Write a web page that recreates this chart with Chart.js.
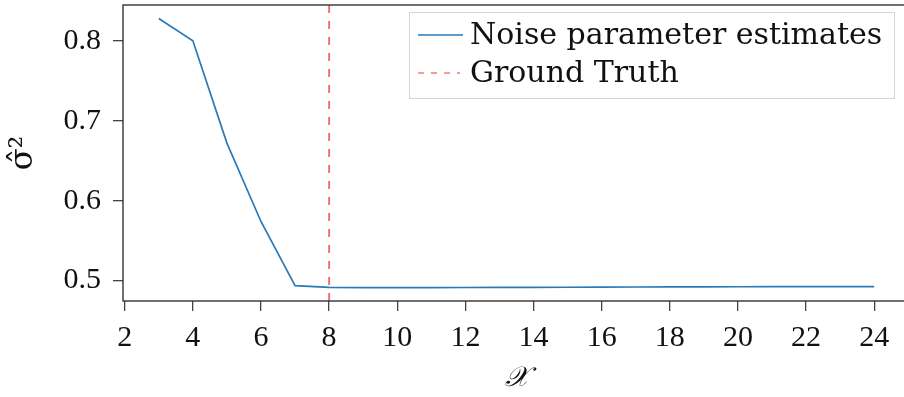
<!DOCTYPE html>
<html>
<head>
<meta charset="utf-8">
<script src="https://cdn.jsdelivr.net/npm/chart.js@4.4.1/dist/chart.umd.min.js"></script>
<style>
  html, body { margin: 0; padding: 0; background: #ffffff; overflow: hidden; }
  #wrap { width: 904px; height: 397px; overflow: hidden; }
  canvas { display: block; }
</style>
</head>
<body>
<div id="wrap"><canvas id="chart" width="912" height="397"></canvas></div>
<script>
// Number of components tried
const components = [3, 4, 5, 6, 7, 8, 9, 10, 11, 12, 13, 14, 15, 16, 17, 18, 19, 20, 21, 22, 23, 24];
// Estimated noise variance for each component count
const noiseEstimates = [0.828, 0.800, 0.672, 0.574, 0.4937, 0.4915, 0.4913, 0.4913, 0.4913, 0.4914, 0.4915,
                        0.4916, 0.4917, 0.4918, 0.4920, 0.4921, 0.4922, 0.4923, 0.4924, 0.4925, 0.4925, 0.4926];
// True number of components
const groundTruth = 8;

// Axis ranges and tick labels
const xRange = [1.95, 25.05];
const yRange = [0.4745, 0.8448];
const xTicks = [2, 4, 6, 8, 10, 12, 14, 16, 18, 20, 22, 24];
const yTicks = [0.5, 0.6, 0.7, 0.8];

const seriesLabels = ['Noise parameter estimates', 'Ground Truth'];
const SERIF = "'DejaVu Serif', 'Liberation Serif', serif";
const TICK_FONT = "'Liberation Serif', 'DejaVu Serif', serif";

// Draws the axes frame around the plotting area
const framePlugin = {
  id: 'frame',
  afterDraw(chart) {
    const { ctx, chartArea: a } = chart;
    ctx.save();
    ctx.strokeStyle = '#333';
    ctx.lineWidth = 1.4;
    ctx.strokeRect(a.left, a.top, a.right - a.left, a.bottom - a.top);
    ctx.restore();
  }
};

// Boxed legend in the upper right of the plotting area
const boxLegendPlugin = {
  id: 'boxLegend',
  afterDraw(chart) {
    const { ctx } = chart;
    const box = { x: 409.5, y: 12.5, w: 485, h: 86 };
    ctx.save();
    ctx.fillStyle = 'rgba(255,255,255,0.85)';
    ctx.fillRect(box.x, box.y, box.w, box.h);
    ctx.strokeStyle = '#d4d4d4';
    ctx.lineWidth = 1;
    ctx.strokeRect(box.x, box.y, box.w, box.h);
    const rows = [35, 73];
    chart.data.datasets.forEach((ds, i) => {
      const y = rows[i];
      ctx.beginPath();
      ctx.strokeStyle = i === 0 ? ds.borderColor : '#f03a3a';
      ctx.lineWidth = i === 0 ? 1.3 : 1.1;
      ctx.setLineDash(i === 0 ? [] : [6, 7]);
      ctx.moveTo(418, y);
      ctx.lineTo(i === 0 ? 463 : 460, y);
      ctx.stroke();
      ctx.setLineDash([]);
      ctx.fillStyle = '#111';
      ctx.font = '30px ' + SERIF;
      ctx.textBaseline = 'middle';
      ctx.textAlign = 'left';
      ctx.fillText(ds.label, 470, y + 1);
    });
    ctx.restore();
  }
};

new Chart(document.getElementById('chart'), {
  type: 'line',
  data: {
    datasets: [
      {
        label: seriesLabels[0],
        data: components.map((c, i) => ({ x: c, y: noiseEstimates[i] })),
        borderColor: '#2a7ab8',
        borderWidth: 1.7,
        pointRadius: 0,
        tension: 0,
        fill: false
      },
      {
        label: seriesLabels[1],
        data: [{ x: groundTruth, y: yRange[0] }, { x: groundTruth, y: yRange[1] }],
        borderColor: 'rgba(240, 90, 95, 0.85)',
        borderWidth: 2,
        borderDash: [8, 8],
        pointRadius: 0,
        fill: false
      }
    ]
  },
  options: {
    responsive: false,
    animation: false,
    layout: { padding: { top: 5, right: 2, left: 0, bottom: 0 } },
    plugins: { legend: { display: false }, tooltip: { enabled: false } },
    scales: {
      x: {
        type: 'linear',
        min: xRange[0],
        max: xRange[1],
        afterBuildTicks: s => { s.ticks = xTicks.map(v => ({ value: v })); },
        afterFit: s => { s.height = 96; s.paddingLeft = 0; s.paddingRight = 0; },
        border: { display: false },
        grid: { drawOnChartArea: false, drawTicks: true, tickLength: 10, tickColor: '#444', lineWidth: 1.3 },
        ticks: { font: { family: TICK_FONT, size: 30 }, color: '#111', padding: 9, maxRotation: 0, autoSkip: false },
        title: { display: true, text: '𝒳', color: '#111', font: { family: SERIF, size: 28, style: 'italic' }, padding: { top: 0, bottom: 1 } }
      },
      y: {
        type: 'linear',
        min: yRange[0],
        max: yRange[1],
        afterBuildTicks: s => { s.ticks = yTicks.map(v => ({ value: v })); },
        afterFit: s => { s.width = 123; s.paddingTop = 0; s.paddingBottom = 0; },
        border: { display: false },
        grid: { drawOnChartArea: false, drawTicks: true, tickLength: 10, tickColor: '#444', lineWidth: 1.3 },
        ticks: { font: { family: TICK_FONT, size: 30 }, color: '#111', padding: 12, callback: v => v.toFixed(1) },
        title: { display: true, text: 'σ̂²', color: '#111', font: { family: SERIF, size: 32 }, padding: { top: 4, bottom: 0 } }
      }
    }
  },
  plugins: [framePlugin, boxLegendPlugin]
});
</script>
</body>
</html>
